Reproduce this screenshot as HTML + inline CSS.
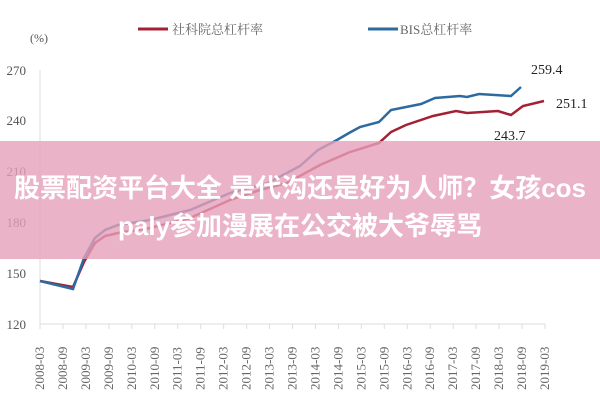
<!DOCTYPE html><html><head><meta charset="utf-8"><style>
body{margin:0;width:600px;height:400px;background:#fff;overflow:hidden;position:relative;font-family:"Liberation Serif","Noto Serif CJK SC",serif}
.b{position:absolute;left:0;top:141px;width:600px;height:118px;background:rgba(230,160,185,0.8)}
.t{position:absolute;left:-10px;width:620px;text-align:center;color:#fff;font:bold 26px "Liberation Sans","Noto Sans CJK SC",sans-serif;white-space:nowrap}
</style></head><body>
<svg width="600" height="400" style="position:absolute;left:0;top:0" font-family="Liberation Serif,Noto Serif CJK SC,serif">
<text x="30" y="42" font-size="12" fill="#555">(%)</text>
<line x1="138" y1="29" x2="168" y2="29" stroke="#a32035" stroke-width="3"/>
<text x="172" y="34" font-size="13" fill="#666">社科院总杠杆率</text>
<line x1="368" y1="29" x2="398" y2="29" stroke="#2c6aa0" stroke-width="3"/>
<text x="400" y="34" font-size="13" fill="#666">BIS总杠杆率</text>
<g font-size="13" fill="#555" text-anchor="end">
<text x="26" y="75">270</text><text x="26" y="125">240</text><text x="26" y="176">210</text><text x="26" y="227">180</text><text x="26" y="278">150</text><text x="26" y="329">120</text></g>
<line x1="40" y1="70" x2="40" y2="324" stroke="#ddd"/>
<line x1="40" y1="324" x2="545" y2="324" stroke="#ddd"/>
<g stroke="#ddd" id="tk"></g>
<polyline fill="none" stroke="#a32035" stroke-width="2.5" points="40,281 73,287 84,262 95,243 105,236 118,233 150,228 190,218 230,200 260,190 287,183 320,165 350,152 379,143 391,132 406,125 433,116 456,111 467,113 498,111 511,115 523,106 544,101"/>
<polyline fill="none" stroke="#2c6aa0" stroke-width="2.5" points="40,281 73,289 84,258 95,238 105,230 118,225 150,220 190,210 230,193 268,183 300,166 318,150 337,140 349,133 360,127 379,122 391,110 421,104 435,98 460,96 467,97 479,94 511,96 521,87"/>
<g font-size="14" fill="#222"><text x="531" y="74">259.4</text><text x="556" y="108">251.1</text><text x="494" y="140">243.7</text></g>
<g font-size="13" fill="#666" id="xl"></g>
</svg>
<div class="b"></div>
<div class="t" style="top:168px">股票配资平台大全 是代沟还是好为人师？女孩cos</div>
<div class="t" style="top:206px">paly参加漫展在公交被大爷辱骂</div>
<script>
var s='',t='',lab=[];for(var y=2008;y<=2019;y++){lab.push(y+'-03');lab.push(y+'-09');}
for(var i=0;i<23;i++){var x=40+i*505/22;t+='<line x1="'+x+'" y1="324" x2="'+x+'" y2="329"/>';
s+='<text transform="translate('+(x+4)+',390) rotate(-90)">'+lab[i]+'</text>';}
document.getElementById('tk').innerHTML=t;document.getElementById('xl').innerHTML=s;
</script>
</body></html>
